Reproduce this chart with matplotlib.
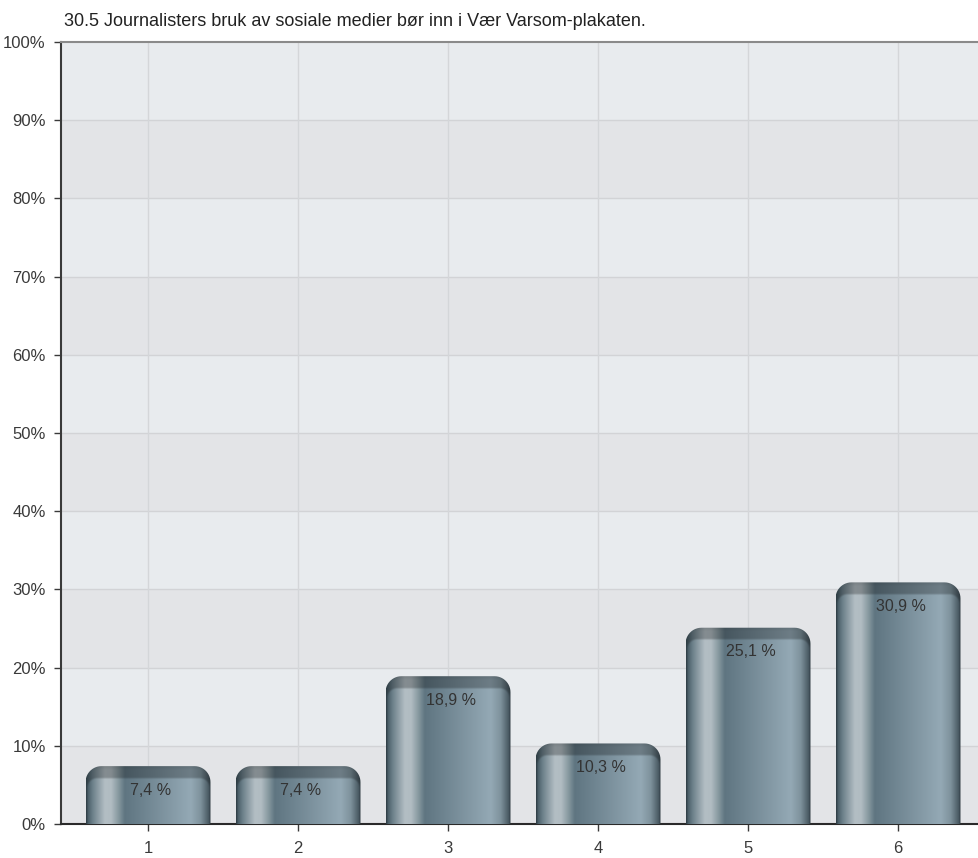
import numpy as np
import matplotlib
matplotlib.use("Agg")
import matplotlib.pyplot as plt
from matplotlib.path import Path
from matplotlib.patches import PathPatch
from matplotlib.colors import to_rgb

plt.rcParams['font.family'] = ['Liberation Sans', 'DejaVu Sans']

title = "30.5 Journalisters bruk av sosiale medier bør inn i Vær Varsom-plakaten."
categories = ["1", "2", "3", "4", "5", "6"]
values = [7.4, 7.4, 18.9, 10.3, 25.1, 30.9]
labels = ["7,4 %", "7,4 %", "18,9 %", "10,3 %", "25,1 %", "30,9 %"]
yticks = [0, 10, 20, 30, 40, 50, 60, 70, 80, 90, 100]

# horizontal shading across a bar (position, colour)
stops = [(0.00, "#3e525c"), (0.05, "#6b7f89"), (0.15, "#b3bec4"), (0.20, "#b1bcc2"),
         (0.26, "#86989f"), (0.31, "#5f7581"), (0.84, "#94a9b5"), (0.92, "#7e929c"),
         (1.00, "#3c4b54")]
sp = np.array([s[0] for s in stops])
sc = np.array([to_rgb(s[1]) for s in stops])

PX_X = 150.0   # pixels per category
PX_Y = 7.82    # pixels per percent


def bar_image(h, bw):
    wpx = bw * PX_X
    hpx = h * PX_Y
    nx, ny = int(wpx * 2), int(hpx * 2)
    u = np.linspace(0, 1, nx)
    row = np.stack([np.interp(u, sp, sc[:, k]) for k in range(3)], axis=1)
    img = np.repeat(row[None, :, :], ny, axis=0)
    px = (u * wpx)[None, :]
    py = np.linspace(0, hpx, ny)[:, None]
    # inner face: rounded rectangle sitting under a darker cap
    cap, r = 12.0, 10.0
    left, right, top = 1.0, wpx - 1.0, hpx - cap
    cx = np.clip(px, left + r, right - r)
    cy = np.minimum(py, top - r)
    d = np.hypot(px - cx, py - cy) - r
    d = np.where(py < top - r, np.maximum(left - px, px - right), d)
    inside = np.clip(0.5 - d / 2.0, 0, 1)
    fac = 0.74 + 0.26 * inside
    # cap darkens a little more toward its upper edge
    edge = np.clip((py - (hpx - 4)) / 4, 0, 1)
    fac = fac * (1 - 0.08 * edge)
    img = img * fac[:, :, None]
    return np.clip(img, 0, 1)


def rounded_top(x0, x1, h, rx, ry):
    ang = np.linspace(np.pi, np.pi / 2, 14)
    left = np.column_stack([x0 + rx + rx * np.cos(ang), h - ry + ry * np.sin(ang)])
    ang = np.linspace(np.pi / 2, 0, 14)
    right = np.column_stack([x1 - rx + rx * np.cos(ang), h - ry + ry * np.sin(ang)])
    pts = np.vstack([[x0, 0], left, right, [x1, 0], [x0, 0]])
    codes = [Path.MOVETO] + [Path.LINETO] * (len(pts) - 2) + [Path.CLOSEPOLY]
    return Path(pts, codes)


fig = plt.figure(figsize=(9.79, 8.58), dpi=100)
ax = fig.add_axes([61 / 979, 1 - 824 / 858, 1 - 61 / 979, (824 - 42) / 858])

x = np.arange(1, len(categories) + 1)
ax.set_xlim(0.42, 6.54)
ax.set_ylim(0, 100)

# alternating bands
for i, y0 in enumerate(yticks[:-1]):
    ax.axhspan(y0, y0 + 10, color="#e3e4e7" if i % 2 == 0 else "#e8ebee", lw=0, zorder=0)
for yv in yticks[1:-1]:
    ax.axhline(yv, color="#d2d3d6", lw=1, zorder=1)
for xv in x:
    ax.axvline(xv, color="#d4d6d9", lw=1, zorder=1)

bw = 0.833
for xi, v, lab in zip(x, values, labels):
    x0, x1 = xi - bw / 2, xi + bw / 2
    im = ax.imshow(bar_image(v, bw), extent=(x0, x1, 0, v), origin="lower",
                   aspect="auto", interpolation="bilinear", zorder=3)
    clip = PathPatch(rounded_top(x0, x1, v, 16 / PX_X, 16 / PX_Y), facecolor="none",
                     edgecolor="none", transform=ax.transData)
    ax.add_patch(clip)
    im.set_clip_path(clip)
    ax.text(xi + 0.02, v - 3.1, lab, ha="center", va="center", fontsize=11.5,
            color="#333333", zorder=4)

ax.set_xticks(x)
ax.set_xticklabels(categories)
ax.set_yticks(yticks)
ax.set_yticklabels([f"{t}%" for t in yticks])
ax.tick_params(axis="both", labelsize=12, colors="#3a3a3a", length=5, width=1)
ax.tick_params(axis="y", pad=6)
ax.tick_params(axis="x", pad=7)

ax.spines["right"].set_visible(False)
ax.spines["top"].set_color("#8a8a8a")
ax.spines["top"].set_linewidth(1.5)
ax.spines["left"].set_color("#3a3a3a")
ax.spines["left"].set_linewidth(1.5)
ax.spines["bottom"].set_color("#2a2a2a")
ax.spines["bottom"].set_linewidth(1.5)

fig.text(64 / 979, 1 - 22 / 858, title, ha="left", va="center", fontsize=13, color="#222222")

fig.savefig("out.png", dpi=100, facecolor="white")
